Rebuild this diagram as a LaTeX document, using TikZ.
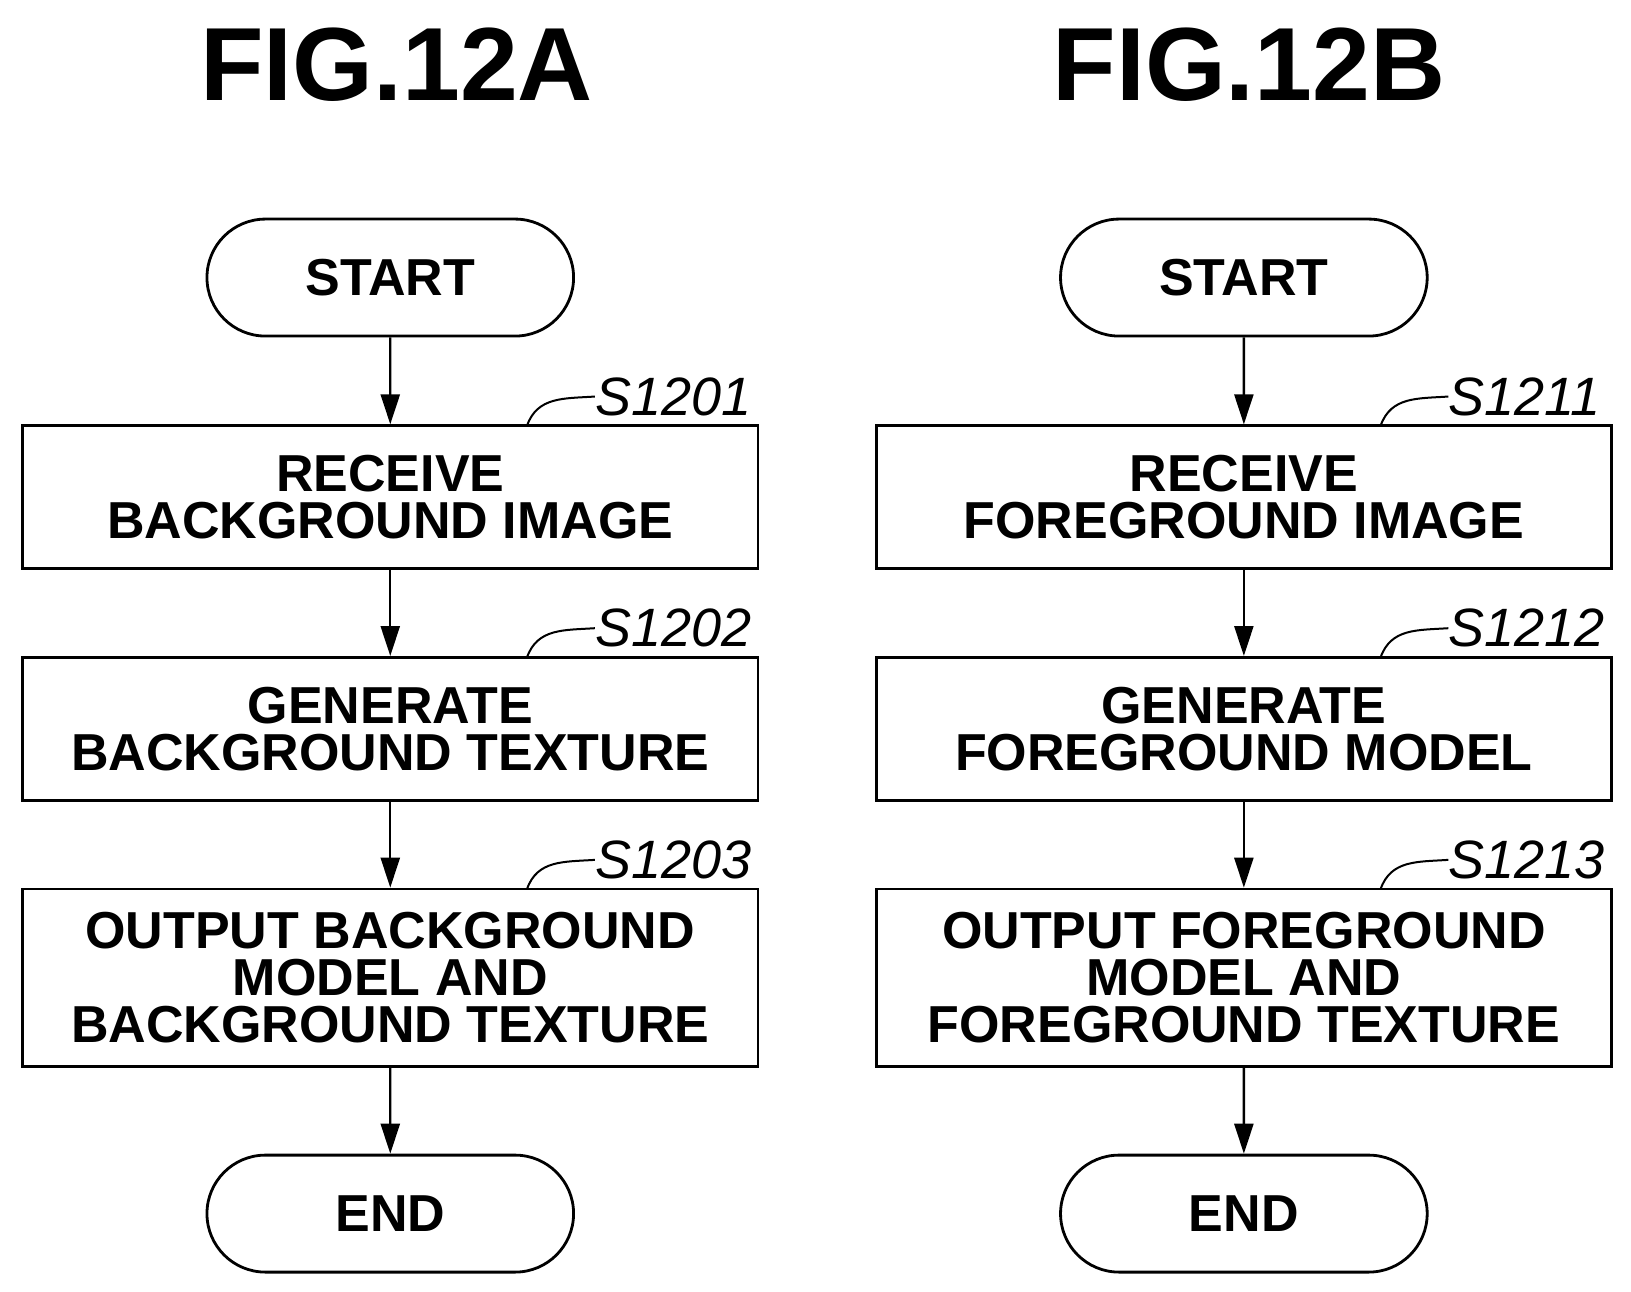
\documentclass[tikz,border=0pt]{standalone}
\usepackage{fontspec}
\setmainfont{Liberation Sans}
\usetikzlibrary{arrows.meta,shapes.misc}
\begin{document}
\begin{tikzpicture}[x=0.5218pt,y=-0.5218pt,
  box/.style={draw,line width=1.4pt,minimum width=367.8pt,align=center,font=\fontsize{26}{23.5}\selectfont\bfseries,inner sep=0pt},
  term/.style={draw,line width=1.4pt,rounded rectangle,minimum width=190pt,minimum height=58.5pt,font=\fontsize{26}{23}\selectfont\bfseries},
  lab/.style={font=\fontsize{27}{27}\selectfont\itshape,anchor=west,inner sep=0pt},
  arr/.style={line width=1.2pt,-{Triangle[length=15pt,width=9.5pt]}},
  sq/.style={line width=1pt},
  title/.style={font=\fontsize{52}{52}\selectfont\bfseries}]
\useasboundingbox (0,0) rectangle (1563,1238);
\node[title] (ta) at (380,62) {FIG.12A};
\node[title] (tb) at (1197,62) {FIG.12B};
% left
\node[term] (sa) at (374,266) {START};
\node[box,minimum height=71.5pt] (a1) at (374,476.5) {RECEIVE\\BACKGROUND IMAGE};
\node[box,minimum height=71.5pt] (a2) at (374,698.5) {GENERATE\\BACKGROUND TEXTURE};
\node[box,minimum height=88.7pt] (a3) at (374,937) {OUTPUT BACKGROUND\\MODEL AND\\BACKGROUND TEXTURE};
\node[term] (ea) at (374,1163) {END};
\draw[arr] (sa) -- (a1);\draw[arr] (a1) -- (a2);\draw[arr] (a2) -- (a3);\draw[arr] (a3) -- (ea);
\node[lab] (la1) at (570,380) {S1201};
\node[lab] (la2) at (570,602) {S1202};
\node[lab] (la3) at (570,824) {S1203};
\coordinate (ca1) at (505,408);\coordinate (ca2) at (505,630);\coordinate (ca3) at (505,852);
\draw[sq] (ca1) .. controls (515,380) and (540,382) .. (la1.west);
\draw[sq] (ca2) .. controls (515,602) and (540,604) .. (la2.west);
\draw[sq] (ca3) .. controls (515,824) and (540,826) .. (la3.west);
% right
\node[term] (sb) at (1192,266) {START};
\node[box,minimum height=71.5pt] (b1) at (1192,476.5) {RECEIVE\\FOREGROUND IMAGE};
\node[box,minimum height=71.5pt] (b2) at (1192,698.5) {GENERATE\\FOREGROUND MODEL};
\node[box,minimum height=88.7pt] (b3) at (1192,937) {OUTPUT FOREGROUND\\MODEL AND\\FOREGROUND TEXTURE};
\node[term] (eb) at (1192,1163) {END};
\draw[arr] (sb) -- (b1);\draw[arr] (b1) -- (b2);\draw[arr] (b2) -- (b3);\draw[arr] (b3) -- (eb);
\node[lab] (lb1) at (1388,380) {S1211};
\node[lab] (lb2) at (1388,602) {S1212};
\node[lab] (lb3) at (1388,824) {S1213};
\coordinate (cb1) at (1323,408);\coordinate (cb2) at (1323,630);\coordinate (cb3) at (1323,852);
\draw[sq] (cb1) .. controls (1333,380) and (1358,382) .. (lb1.west);
\draw[sq] (cb2) .. controls (1333,602) and (1358,604) .. (lb2.west);
\draw[sq] (cb3) .. controls (1333,824) and (1358,826) .. (lb3.west);
\end{tikzpicture}
\end{document}
